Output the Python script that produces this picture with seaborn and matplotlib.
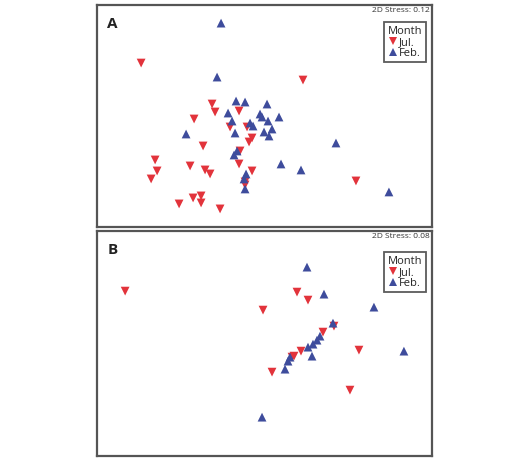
import pandas as pd
import matplotlib
matplotlib.use("Agg")
import matplotlib.pyplot as plt
import seaborn as sns

# NMDS coordinates (arbitrary units)
a_feb_x = [-0.44, -0.48, -0.29, -0.20, 0.02, -0.37, -0.05, -0.03, 0.14, -0.33, -0.15, -0.12,
           0.03, -0.79, -0.30, -0.01, 0.07, 0.04, -0.28, -0.31, 0.71, 0.16, 0.36, -0.19,
           -0.21, -0.20, 1.24]
a_feb_y = [0.93, 0.39, 0.15, 0.14, 0.12, 0.03, 0.02, -0.01, -0.01, -0.05, -0.07, -0.10,
           -0.05, -0.18, -0.17, -0.16, -0.13, -0.20, -0.35, -0.39, -0.27, -0.48, -0.54, -0.58,
           -0.63, -0.73, -0.76]
a_jul_x = [-1.24, 0.38, -0.53, -0.50, -0.26, -0.71, -0.35, -0.18, -0.13, -0.16, -0.62, -0.25,
           -1.10, -1.08, -1.14, -0.75, -0.60, -0.55, -0.26, -0.13, -0.20, -0.20, 0.91, -0.72,
           -0.64, -0.64, -0.86, -0.45]
a_jul_y = [0.53, 0.36, 0.12, 0.04, 0.05, -0.03, -0.11, -0.11, -0.22, -0.26, -0.30, -0.35,
           -0.44, -0.55, -0.63, -0.50, -0.54, -0.58, -0.48, -0.55, -0.66, -0.69, -0.65, -0.82,
           -0.80, -0.87, -0.88, -0.93]

b_feb_x = [0.42, 0.59, 1.09, 0.68, 0.55, 0.52, 0.48, 0.43, 0.47, 0.25, 0.23, 0.20, 1.39, -0.03]
b_feb_y = [0.77, 0.50, 0.37, 0.21, 0.08, 0.04, 0.00, -0.03, -0.12, -0.13, -0.17, -0.25, -0.07, -0.73]
b_jul_x = [-1.40, 0.32, 0.43, -0.02, 0.69, 0.58, 0.36, 0.29, 0.27, 0.94, 0.07, 0.85]
b_jul_y = [0.53, 0.52, 0.44, 0.34, 0.18, 0.12, -0.07, -0.12, -0.13, -0.06, -0.28, -0.46]

stress = {"A": "0.12", "B": "0.08"}
months = ["Jul.", "Feb."]
pal = {"Jul.": "#e2333b", "Feb.": "#3e4c9c"}
marks = {"Jul.": "v", "Feb.": "^"}


def make_df(jx, jy, fx, fy):
    d1 = pd.DataFrame({"x": jx, "y": jy, "Month": "Jul."})
    d2 = pd.DataFrame({"x": fx, "y": fy, "Month": "Feb."})
    return pd.concat([d1, d2], ignore_index=True)


panels = {
    "A": make_df(a_jul_x, a_jul_y, a_feb_x, a_feb_y),
    "B": make_df(b_jul_x, b_jul_y, b_feb_x, b_feb_y),
}

sns.set_style("white")
plt.rcParams["font.family"] = ["Open Sans", "DejaVu Sans"]

fig = plt.figure(figsize=(5.28, 4.65), dpi=100)
boxes = {"A": [0.184, 0.512, 0.634, 0.477], "B": [0.184, 0.019, 0.634, 0.484]}
ylims = {"A": (-1.11, 1.11), "B": (-1.12, 1.13)}
leg_top = {"A": 0.922, "B": 0.905}

for key, data in panels.items():
    ax = fig.add_axes(boxes[key])
    sns.scatterplot(data=data, x="x", y="y", hue="Month", style="Month",
                    hue_order=months, style_order=months, palette=pal,
                    markers=marks, s=40, linewidth=0, ax=ax)
    ax.set_xlim(-1.68, 1.67)
    ax.set_ylim(*ylims[key])
    ax.set_xticks([])
    ax.set_yticks([])
    ax.set_xlabel("")
    ax.set_ylabel("")
    for sp in ax.spines.values():
        sp.set_color("#555555")
        sp.set_linewidth(1.6)
    ax.text(0.03, 0.945, key, transform=ax.transAxes, fontsize=11,
            fontweight="bold", va="top", ha="left", color="#222222")
    ax.text(0.993, 0.99, f"2D Stress: {stress[key]}", transform=ax.transAxes,
            fontsize=6, va="top", ha="right", color="#333333")
    sns.move_legend(ax, "upper right", bbox_to_anchor=(0.981, leg_top[key]),
                    title="Month", frameon=True, fancybox=False, fontsize=8,
                    title_fontsize=8, borderaxespad=0, handletextpad=0.15,
                    borderpad=0.3, labelspacing=0.0, handlelength=0.7,
                    markerscale=0.9)
    leg = ax.get_legend()
    leg.get_frame().set_edgecolor("#333333")
    leg.get_frame().set_linewidth(1.3)

fig.savefig("out.png", dpi=100)
